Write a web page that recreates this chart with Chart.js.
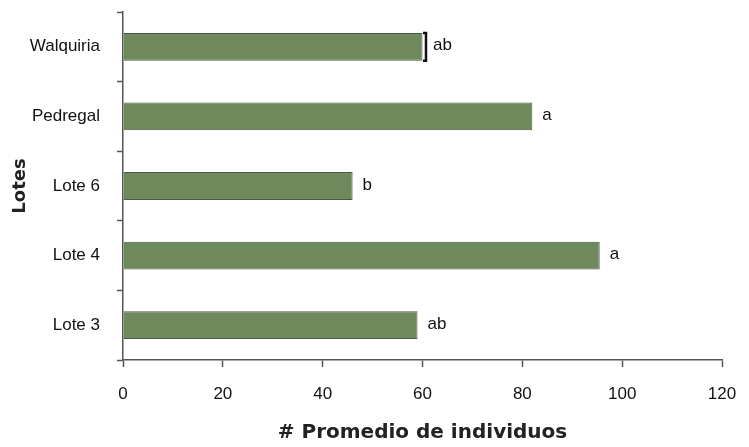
<!DOCTYPE html>
<html>
<head>
    <meta charset="UTF-8">
    <title>Promedio de individuos por lote</title>
    <script src="https://cdn.jsdelivr.net/npm/chart.js"></script>
    <style>
        body {
            margin: 0;
            background: #ffffff;
        }
        .chart-container {
            position: relative;
            width: 749px;
            height: 447px;
        }
    </style>
</head>
<body>
    <div class="chart-container">
        <canvas id="lotesChart"></canvas>
    </div>

    <script>
        // Data
        const lotes = ['Walquiria', 'Pedregal', 'Lote 6', 'Lote 4', 'Lote 3'];
        const promedio = [60, 82, 46, 95.5, 59];
        const errores = [0.7, 0, 0, 0, 0];
        const letras = ['ab', 'a', 'b', 'a', 'ab'];
        const xTickValues = [0, 20, 40, 60, 80, 100, 120];

        const axisColor = '#555555';

        // keep the plot box where the original has it
        function noPadding(scale) {
            scale.paddingTop = 0;
            scale.paddingBottom = 0;
            scale.paddingLeft = 0;
            scale.paddingRight = 0;
        }

        // error bar + significance letters at the end of each bar
        const barNotes = {
            id: 'barNotes',
            afterDatasetsDraw(chart) {
                const ctx = chart.ctx;
                const meta = chart.getDatasetMeta(0);
                const xScale = chart.scales.x;
                ctx.save();
                meta.data.forEach((bar, i) => {
                    const half = bar.height / 2;
                    let endX = bar.x;
                    if (errores[i] > 0) {
                        const ex = xScale.getPixelForValue(promedio[i] + errores[i]);
                        ctx.strokeStyle = '#111111';
                        ctx.lineWidth = 2.5;
                        ctx.beginPath();
                        ctx.moveTo(ex - 3, bar.y - half);
                        ctx.lineTo(ex, bar.y - half);
                        ctx.lineTo(ex, bar.y + half);
                        ctx.lineTo(ex - 3, bar.y + half);
                        ctx.stroke();
                        endX = ex;
                    }
                    ctx.fillStyle = '#111111';
                    ctx.font = '17px "Liberation Sans", Arial, sans-serif';
                    ctx.textAlign = 'left';
                    ctx.textBaseline = 'middle';
                    ctx.fillText(letras[i], endX + (errores[i] > 0 ? 7 : 10), bar.y - 1);
                });
                ctx.restore();
            }
        };

        const ctx = document.getElementById('lotesChart').getContext('2d');
        const chart = new Chart(ctx, {
            type: 'bar',
            data: {
                labels: lotes,
                datasets: [{
                    label: '# Promedio de individuos',
                    data: promedio,
                    backgroundColor: '#6e8a5c',
                    borderColor: '#4b5a44',
                    borderWidth: 1,
                    barPercentage: 0.4,
                    categoryPercentage: 1.0
                }]
            },
            options: {
                indexAxis: 'y',
                responsive: true,
                maintainAspectRatio: false,
                animation: false,
                layout: {
                    padding: { top: 12, right: 27, left: 0, bottom: 0 }
                },
                plugins: {
                    legend: { display: false },
                    tooltip: { enabled: false }
                },
                scales: {
                    x: {
                        min: 0,
                        max: 120,
                        afterBuildTicks(scale) {
                            scale.ticks = xTickValues.map(v => ({ value: v }));
                        },
                        afterFit(scale) {
                            scale.height = 87;
                            noPadding(scale);
                        },
                        border: { color: axisColor, width: 1.5 },
                        grid: {
                            drawOnChartArea: false,
                            drawTicks: true,
                            tickLength: 7,
                            tickColor: axisColor,
                            tickWidth: 1.5
                        },
                        ticks: {
                            color: '#111111',
                            padding: 17,
                            maxRotation: 0,
                            font: { family: '"Liberation Sans", Arial, sans-serif', size: 17 }
                        },
                        title: {
                            display: true,
                            text: '# Promedio de individuos',
                            color: '#222222',
                            padding: { top: 0, bottom: 2 },
                            font: { family: '"DejaVu Sans", sans-serif', size: 20, weight: 'bold' }
                        }
                    },
                    y: {
                        afterFit(scale) {
                            scale.width = 123;
                            noPadding(scale);
                        },
                        border: { color: axisColor, width: 1.5 },
                        grid: {
                            drawOnChartArea: false,
                            drawTicks: true,
                            offset: true,
                            tickLength: 6,
                            tickColor: axisColor,
                            tickWidth: 1.5
                        },
                        ticks: {
                            color: '#111111',
                            padding: 17,
                            font: { family: '"Liberation Sans", Arial, sans-serif', size: 17 }
                        },
                        title: {
                            display: true,
                            text: 'Lotes',
                            color: '#222222',
                            padding: { top: 10, bottom: 0 },
                            font: { family: '"DejaVu Sans", sans-serif', size: 18, weight: 'bold' }
                        }
                    }
                }
            },
            plugins: [barNotes]
        });
    </script>
</body>
</html>
